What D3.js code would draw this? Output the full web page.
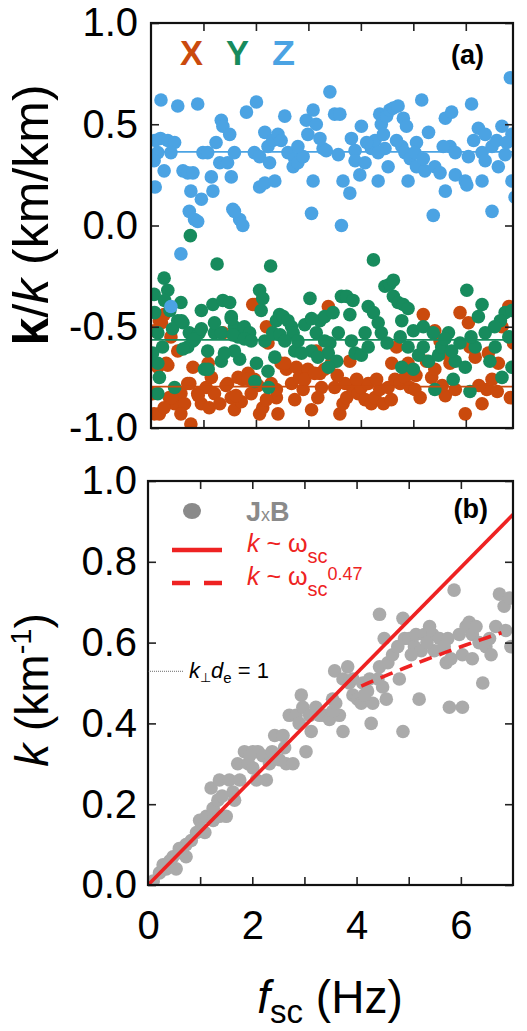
<!DOCTYPE html>
<html><head><meta charset="utf-8">
<script src="https://cdn.jsdelivr.net/npm/d3@7"></script>
<style>
body{margin:0;background:#fff}
svg{display:block}
text{font-family:"Liberation Sans",Arial,Helvetica,sans-serif}
</style>
</head><body>
<svg id="c" width="527" height="1031"></svg>
<script>
// ---------- DATA ----------
// panel (a): direction cosines of k vs spacecraft-frame frequency (Hz)
const compX = [[0.76,-0.98],[0.06,-0.93],[0.16,-0.93],[0.13,-0.70],[0.29,-0.68],[0.16,-0.47],[0.25,-0.44],[0.38,-0.55],[0.51,-0.62],[0.35,-0.85],[0.45,-0.88],[0.57,-0.83],[0.64,-0.88],[0.70,-0.78],[0.80,-0.70],[0.89,-0.83],[0.96,-0.88],[1.05,-0.80],[1.11,-0.90],[1.21,-0.83],[1.31,-0.88],[1.37,-0.53],[1.46,-0.78],[1.53,-0.85],[1.59,-0.91],[1.66,-0.75],[1.75,-0.76],[1.85,-0.73],[1.94,-0.39],[1.91,-0.83],[1.97,-0.76],[2.07,-0.93],[2.13,-0.90],[2.23,-0.58],[2.29,-0.78],[2.39,-0.85],[2.48,-0.68],[2.58,-0.71],[2.68,-0.78],[2.77,-0.70],[2.83,-0.75],[2.90,-0.81],[2.99,-0.71],[3.06,-0.91],[3.15,-0.62],[3.22,-0.73],[3.25,-0.80],[3.31,-0.71],[3.38,-0.40],[3.44,-0.68],[3.50,-0.80],[3.60,-0.93],[3.66,-0.88],[3.73,-0.85],[3.79,-0.67],[3.85,-0.81],[3.95,-0.83],[4.01,-0.80],[4.08,-0.86],[4.14,-0.78],[4.20,-0.88],[4.27,-0.85],[4.36,-0.81],[4.43,-0.88],[4.52,-0.80],[4.59,-0.68],[4.65,-0.76],[4.75,-0.78],[4.84,-0.75],[4.68,-0.60],[4.94,-0.80],[5.03,-0.81],[5.13,-0.85],[5.19,-0.44],[5.25,-0.67],[5.35,-0.75],[5.41,-0.52],[5.51,-0.57],[5.61,-0.84],[5.70,-0.68],[5.80,-0.81],[5.89,-0.43],[5.99,-0.93],[6.05,-0.48],[6.08,-0.60],[6.18,-0.65],[6.31,-0.88],[6.40,-0.81],[6.50,-0.76],[6.62,-0.68],[6.69,-0.50],[6.82,-0.40],[6.85,-0.85],[6.91,-0.58],[6.43,-0.63],[5.41,-0.71],[5.61,-0.63],[4.90,-0.68],[3.70,-0.78],[3.18,-0.85],[2.74,-0.86],[2.42,-0.93],[1.72,-0.87],[1.15,-0.75],[0.57,-0.93],[0.25,-0.90],[0.03,-0.83],[0.20,-0.48],[0.07,-0.52],[0.32,-0.69],[0.74,-0.78],[0.90,-0.84],[0.39,-0.85],[1.43,-0.79],[1.09,-0.68],[1.85,-0.76],[2.04,-0.79],[2.20,-0.86],[1.98,-0.39],[2.20,-0.50],[2.55,-0.68],[2.93,-0.76],[3.12,-0.73],[1.62,-0.84],[2.39,-0.81],[3.55,-0.74],[3.92,-0.76],[4.30,-0.76],[4.58,-0.86],[5.05,-0.74],[5.55,-0.79],[6.25,-0.79],[6.60,-0.82]];
const compY = [[0.75,-0.05],[1.26,-0.19],[2.28,-0.20],[4.24,-0.17],[6.02,-0.32],[0.06,-0.34],[0.25,-0.26],[0.32,-0.32],[0.57,-0.38],[0.51,-0.47],[0.13,-0.53],[0.22,-0.60],[0.13,-0.68],[0.16,-0.75],[0.45,-0.80],[0.41,-0.51],[0.61,-0.48],[0.73,-0.53],[0.80,-0.57],[0.96,-0.42],[0.92,-0.53],[1.02,-0.71],[1.08,-0.62],[1.21,-0.53],[1.18,-0.39],[1.34,-0.67],[1.37,-0.37],[1.50,-0.38],[1.53,-0.45],[1.59,-0.50],[1.66,-0.55],[1.69,-0.66],[1.78,-0.50],[1.88,-0.53],[2.01,-0.68],[2.07,-0.32],[2.13,-0.36],[2.17,-0.57],[2.23,-0.72],[2.32,-0.53],[2.39,-0.47],[2.45,-0.44],[2.52,-0.45],[2.61,-0.47],[2.68,-0.50],[2.74,-0.62],[2.71,-0.53],[2.80,-0.57],[2.93,-0.49],[3.03,-0.36],[3.06,-0.62],[3.15,-0.53],[3.22,-0.47],[3.31,-0.45],[3.41,-0.58],[3.47,-0.43],[3.57,-0.53],[3.63,-0.35],[3.73,-0.35],[3.79,-0.44],[3.85,-0.37],[3.82,-0.57],[3.89,-0.63],[4.01,-0.64],[4.08,-0.53],[4.14,-0.40],[4.24,-0.43],[4.33,-0.48],[4.39,-0.53],[4.46,-0.30],[4.55,-0.29],[4.62,-0.27],[4.62,-0.35],[4.71,-0.38],[4.81,-0.39],[4.90,-0.41],[4.75,-0.55],[4.78,-0.70],[4.90,-0.60],[5.00,-0.52],[5.10,-0.64],[5.19,-0.50],[5.19,-0.60],[5.29,-0.67],[5.38,-0.53],[5.41,-0.81],[5.48,-0.64],[5.54,-0.60],[5.67,-0.53],[5.76,-0.76],[5.80,-0.67],[5.89,-0.58],[5.99,-0.70],[6.08,-0.82],[6.18,-0.60],[6.24,-0.45],[6.31,-0.39],[6.37,-0.53],[6.46,-0.67],[6.56,-0.60],[6.69,-0.75],[6.75,-0.43],[6.82,-0.55],[6.88,-0.70],[6.88,-0.42],[6.66,-0.47],[5.73,-0.62],[5.00,-0.71],[4.78,-0.47],[3.38,-0.63],[3.54,-0.67],[2.87,-0.63],[3.18,-0.65],[1.59,-0.62],[1.34,-0.53],[0.70,-0.60],[0.03,-0.63],[4.14,-0.60],[0.26,-0.37],[0.36,-0.42],[0.07,-0.43],[0.58,-0.47],[0.61,-0.61],[0.83,-0.56],[0.96,-0.51],[1.21,-0.48],[1.53,-0.46],[1.56,-0.54],[1.78,-0.56],[1.91,-0.57],[2.10,-0.42],[2.36,-0.65],[2.46,-0.54],[2.55,-0.57],[3.06,-0.46],[3.31,-0.57],[3.38,-0.70],[1.40,-0.63],[1.09,-0.71],[1.98,-0.77],[2.24,-0.80],[0.13,-0.83],[4.50,-0.58],[5.60,-0.56],[6.10,-0.55],[6.55,-0.50]];
const compZ = [[0.19,0.62],[0.51,0.59],[0.89,0.60],[0.08,0.42],[0.18,0.43],[0.32,0.42],[0.45,0.41],[0.13,0.36],[0.06,0.32],[0.25,0.27],[0.08,0.19],[0.38,0.36],[0.61,0.27],[0.70,0.26],[0.80,0.26],[0.76,0.17],[0.96,0.13],[0.73,0.07],[0.83,0.03],[0.89,0.02],[0.57,-0.14],[0.38,-0.40],[0.99,0.36],[1.08,0.36],[1.24,0.41],[1.15,0.24],[1.18,0.17],[1.34,0.52],[1.37,0.49],[1.50,0.45],[1.53,0.24],[1.31,0.31],[1.46,0.31],[1.56,0.08],[1.69,0.03],[1.75,0.00],[1.59,0.07],[1.82,0.56],[2.01,0.61],[1.97,0.36],[2.07,0.34],[2.17,0.46],[2.23,0.39],[2.32,0.42],[2.42,0.45],[2.26,0.31],[2.07,0.19],[2.17,0.21],[2.36,0.22],[2.55,0.54],[2.48,0.42],[2.61,0.36],[2.74,0.33],[2.71,0.29],[2.80,0.31],[2.90,0.34],[2.96,0.52],[2.99,0.45],[3.09,0.57],[3.15,0.50],[3.22,0.43],[3.28,0.38],[3.34,0.37],[3.41,0.66],[3.50,0.55],[3.60,0.55],[3.57,0.35],[3.09,0.22],[3.06,0.06],[3.63,0.00],[3.66,0.22],[3.79,0.16],[3.82,0.43],[3.89,0.37],[3.89,0.32],[3.98,0.25],[4.01,0.49],[4.08,0.31],[4.20,0.38],[4.27,0.42],[4.36,0.55],[4.39,0.50],[4.43,0.45],[4.49,0.54],[4.55,0.57],[4.62,0.58],[4.71,0.59],[4.81,0.53],[4.87,0.49],[4.78,0.39],[4.84,0.36],[4.94,0.33],[4.90,0.22],[4.52,0.29],[4.46,0.38],[4.33,0.22],[5.16,0.62],[5.06,0.41],[5.03,0.36],[5.06,0.29],[5.22,0.27],[5.29,0.46],[5.38,0.05],[5.41,0.29],[5.51,0.26],[5.61,0.17],[5.61,0.53],[5.73,0.56],[5.70,0.39],[5.80,0.36],[5.80,0.25],[5.99,0.22],[6.02,0.20],[6.11,0.60],[6.15,0.42],[6.24,0.48],[6.31,0.36],[6.37,0.32],[6.50,0.07],[6.37,0.45],[6.50,0.39],[6.59,0.42],[6.69,0.49],[6.62,0.29],[6.75,0.35],[6.85,0.73],[6.88,0.45],[6.88,0.22],[6.94,0.14],[6.31,0.22],[6.05,0.34],[4.11,0.41],[4.68,0.42],[5.19,0.33],[5.57,0.39],[4.33,0.36],[2.80,0.39],[1.59,0.36],[6.78,0.41]];
const compNames = ["X","Y","Z"];
const compMeans = [-0.796, -0.565, 0.364];
const yTicksA = [-1, -0.5, 0, 0.5, 1];

// panel (b): |k| (km^-1) vs f_sc (Hz), J x B method
const jxb = [[0.10,0.01],[0.22,0.03],[0.35,0.04],[0.29,0.05],[0.48,0.07],[0.54,0.04],[0.64,0.08],[0.73,0.07],[0.73,0.10],[0.83,0.11],[0.93,0.13],[0.99,0.16],[1.09,0.13],[1.12,0.17],[1.25,0.19],[1.34,0.21],[1.25,0.16],[1.37,0.17],[1.50,0.17],[1.21,0.24],[1.37,0.26],[1.56,0.26],[1.63,0.23],[1.66,0.21],[1.76,0.26],[1.72,0.30],[1.85,0.33],[2.01,0.33],[2.11,0.33],[2.20,0.32],[1.92,0.30],[2.01,0.29],[2.08,0.26],[2.27,0.26],[2.33,0.30],[2.43,0.37],[2.59,0.37],[2.52,0.31],[2.65,0.30],[2.78,0.30],[2.62,0.34],[2.71,0.42],[2.84,0.42],[3.03,0.33],[2.94,0.47],[2.97,0.44],[3.10,0.42],[3.13,0.38],[3.22,0.44],[3.29,0.42],[3.38,0.42],[3.48,0.41],[3.54,0.46],[3.67,0.42],[3.74,0.38],[3.58,0.53],[3.74,0.51],[3.83,0.54],[3.86,0.50],[3.93,0.47],[4.02,0.46],[3.93,0.51],[4.09,0.45],[4.12,0.50],[4.21,0.48],[4.25,0.51],[4.31,0.45],[4.41,0.51],[4.50,0.49],[4.44,0.54],[4.57,0.46],[4.28,0.40],[4.44,0.67],[4.53,0.61],[4.60,0.55],[4.69,0.57],[4.79,0.59],[4.89,0.66],[4.82,0.51],[4.92,0.61],[4.89,0.38],[5.01,0.61],[5.11,0.59],[5.14,0.62],[5.20,0.46],[5.24,0.58],[5.30,0.62],[5.40,0.64],[5.46,0.62],[5.49,0.58],[5.59,0.61],[5.68,0.59],[5.75,0.61],[5.72,0.55],[5.81,0.56],[5.87,0.73],[5.78,0.44],[5.97,0.62],[6.03,0.57],[6.10,0.64],[6.16,0.65],[6.22,0.62],[6.29,0.64],[6.35,0.60],[6.22,0.56],[6.03,0.44],[6.42,0.50],[6.48,0.59],[6.58,0.57],[6.67,0.64],[6.74,0.72],[6.83,0.69],[6.93,0.71],[6.86,0.63],[6.96,0.59],[3.54,0.43],[0.42,0.06],[0.60,0.09],[1.02,0.14],[1.42,0.22],[1.95,0.32],[2.38,0.33],[2.90,0.40],[3.60,0.45],[4.15,0.47],[5.05,0.57],[5.35,0.60],[6.55,0.61]];
const linearSlope = 0.131;          // k ~ omega_sc
const powerAmp = 0.254, powerExp = 0.47, powerRange = [4.09, 6.78];  // k ~ omega_sc^0.47
const kdeLine = 0.529;              // k_perp d_e = 1
const xTicksB = [0, 2, 4, 6];
const yTicksB = [0, 0.2, 0.4, 0.6, 0.8, 1.0];

// ---------- STYLE ----------
const compColors = ["#CA4A0D", "#178B5D", "#4BA3E3"];
const gray = "#AAAAAA", red = "#EE2222";
const FONT = '"Liberation Sans", Arial, Helvetica, sans-serif';
const R = 6.8;

const svg = d3.select("#c");
const fmt = d => d3.format(".1f")(d).replace("\u2212", "-");

function frameAndTicks(x, y, opts) {
  const g = svg.append("g");
  const [x0, x1] = x.range(), [y0, y1] = y.range();
  const styleAxis = sel => {
    sel.select(".domain").remove();
    sel.selectAll("line").attr("stroke", "#222").attr("stroke-width", 1.6);
    sel.attr("font-family", FONT).attr("font-size", opts.tickFont).selectAll("text").attr("fill", "#000");
  };
  g.append("g").attr("transform", `translate(0,${y0})`)
    .call(d3.axisBottom(x).tickValues(opts.xMinor).tickSizeInner(-8).tickSizeOuter(0).tickFormat("")).call(styleAxis);
  g.append("g").attr("transform", `translate(0,${y1})`)
    .call(d3.axisTop(x).tickValues(opts.xMinor).tickSizeInner(-8).tickSizeOuter(0).tickFormat("")).call(styleAxis);
  g.append("g").attr("transform", `translate(${x0},0)`)
    .call(d3.axisLeft(y).tickValues(opts.yTicks).tickSizeInner(-8).tickSizeOuter(0).tickPadding(opts.yPad).tickFormat(fmt)).call(styleAxis);
  g.append("g").attr("transform", `translate(${x1},0)`)
    .call(d3.axisRight(y).tickValues(opts.yTicks).tickSizeInner(-8).tickSizeOuter(0).tickFormat("")).call(styleAxis);
  if (opts.xLabels) {
    g.append("g").attr("transform", `translate(0,${y0})`)
      .call(d3.axisBottom(x).tickValues(opts.xLabels).tickSize(0).tickPadding(opts.xPad).tickFormat(d3.format("d"))).call(styleAxis);
  }
  g.append("rect").attr("x", x0).attr("y", y1).attr("width", x1 - x0).attr("height", y0 - y1)
    .attr("fill", "none").attr("stroke", "#111").attr("stroke-width", 2.2);
}

// ---------- PANEL A ----------
const xA = d3.scaleLinear().domain([0, 6.9]).range([151, 513]);
const yA = d3.scaleLinear().domain([-1, 1]).range([428, 23]);
svg.append("clipPath").attr("id", "clipA").append("rect")
  .attr("x", 151).attr("y", 23).attr("width", 362).attr("height", 405);
const gA = svg.append("g").attr("clip-path", "url(#clipA)");
[compX, compY, compZ].forEach((data, i) => {
  gA.append("g").selectAll("circle").data(data).join("circle")
    .attr("cx", d => xA(d[0])).attr("cy", d => yA(d[1])).attr("r", R)
    .attr("fill", compColors[i]);
});
compMeans.forEach((m, i) => {
  gA.append("line").attr("x1", xA.range()[0]).attr("x2", xA.range()[1])
    .attr("y1", yA(m)).attr("y2", yA(m)).attr("stroke", compColors[i]).attr("stroke-width", 1.8);
});
frameAndTicks(xA, yA, {xMinor: [1,2,3,4,5,6], yTicks: yTicksA, tickFont: 40, yPad: 13});

// legend X Y Z
const legX = [180, 226, 272];
compNames.forEach((n, i) => {
  svg.append("text").attr("x", legX[i]).attr("y", 65).attr("font-size", 35).attr("font-weight", "bold")
    .attr("fill", compColors[i]).attr("textLength", 23).attr("lengthAdjust", "spacingAndGlyphs").text(n);
});
svg.append("text").attr("x", 484).attr("y", 64).attr("text-anchor", "end").attr("font-size", 27)
  .attr("font-weight", "bold").text("(a)");

// y label A
const ylA = svg.append("text").attr("transform", "translate(48,215) rotate(-90)")
  .attr("text-anchor", "middle").attr("font-size", 50);
ylA.append("tspan").attr("font-weight", "bold").text("k");
ylA.append("tspan").text("/");
ylA.append("tspan").attr("font-style", "italic").text("k");
ylA.append("tspan").text(" (km/km)");

// ---------- PANEL B ----------
const xB = d3.scaleLinear().domain([0, 7]).range([148, 513]);
const yB = d3.scaleLinear().domain([0, 1]).range([885, 481]);
svg.append("clipPath").attr("id", "clipB").append("rect")
  .attr("x", 148).attr("y", 481).attr("width", 365).attr("height", 404);
const gB = svg.append("g").attr("clip-path", "url(#clipB)");
gB.append("g").selectAll("circle").data(jxb).join("circle")
  .attr("cx", d => xB(d[0])).attr("cy", d => yB(d[1])).attr("r", R).attr("fill", gray);

const line = d3.line().x(d => xB(d[0])).y(d => yB(d[1]));
gB.append("path").attr("d", line(xB.domain().map(f => [f, linearSlope * f])))
  .attr("fill", "none").attr("stroke", red).attr("stroke-width", 3.6);
const pf = d3.range(0, 21).map(i => powerRange[0] + i * (powerRange[1] - powerRange[0]) / 20);
gB.append("path").attr("d", line(pf.map(f => [f, powerAmp * Math.pow(f, powerExp)])))
  .attr("fill", "none").attr("stroke", red).attr("stroke-width", 3.6).attr("stroke-dasharray", "13,8");

frameAndTicks(xB, yB, {xMinor: [1,2,3,4,5,6], yTicks: yTicksB, tickFont: 40, yPad: 11, xLabels: xTicksB, xPad: 26});

// k_perp d_e = 1 marker
svg.append("line").attr("x1", xB(0)).attr("x2", xB(0) + 36).attr("y1", yB(kdeLine)).attr("y2", yB(kdeLine))
  .attr("stroke", "#444").attr("stroke-width", 0.8).attr("stroke-dasharray", "1,1");
const kt = svg.append("text").attr("x", 189).attr("y", yB(kdeLine) + 7).attr("font-size", 22);
kt.append("tspan").attr("font-style", "italic").text("k");
kt.append("tspan").attr("font-size", 13).attr("dy", 4).text("\u22A5");
kt.append("tspan").attr("font-style", "italic").attr("dy", -4).text("d");
kt.append("tspan").attr("font-size", 15).attr("dy", 5).text("e");
kt.append("tspan").attr("dy", -5).text(" = 1");

// legend B
svg.append("ellipse").attr("cx", 192).attr("cy", 511).attr("rx", 9).attr("ry", 8).attr("fill", "#8A8A8A");
const jt = svg.append("text").attr("x", 246).attr("y", 521).attr("font-size", 27).attr("fill", "#8A8A8A");
jt.append("tspan").attr("font-weight", "bold").text("J");
jt.append("tspan").attr("font-size", 18).text("x");
jt.append("tspan").attr("font-weight", "bold").text("B");
svg.append("text").attr("x", 488).attr("y", 518).attr("text-anchor", "end").attr("font-size", 27)
  .attr("font-weight", "bold").text("(b)");

svg.append("line").attr("x1", 172).attr("x2", 222).attr("y1", 550).attr("y2", 550)
  .attr("stroke", red).attr("stroke-width", 4.5);
svg.append("line").attr("x1", 172).attr("x2", 222).attr("y1", 583).attr("y2", 583)
  .attr("stroke", red).attr("stroke-width", 4.5).attr("stroke-dasharray", "18,14");
const l1 = svg.append("text").attr("x", 247).attr("y", 552).attr("font-size", 25).attr("fill", red);
l1.append("tspan").attr("font-style", "italic").text("k");
l1.append("tspan").text(" ~ \u03C9");
l1.append("tspan").attr("font-size", 20).attr("dy", 11).text("sc");
const l2 = svg.append("text").attr("x", 247).attr("y", 585).attr("font-size", 25).attr("fill", red);
l2.append("tspan").attr("font-style", "italic").text("k");
l2.append("tspan").text(" ~ \u03C9");
l2.append("tspan").attr("font-size", 20).attr("dy", 11).text("sc");
l2.append("tspan").attr("font-size", 18).attr("dy", -16).text("0.47");

// y label B
const ylB = svg.append("text").attr("transform", "translate(48,690) rotate(-90)")
  .attr("text-anchor", "middle").attr("font-size", 46);
ylB.append("tspan").attr("font-style", "italic").text("k");
ylB.append("tspan").text(" (km");
ylB.append("tspan").attr("font-size", 29).attr("dy", -17).text("-1");
ylB.append("tspan").attr("dy", 17).text(")");

// x label B
const xl = svg.append("text").attr("x", 330).attr("y", 1013).attr("text-anchor", "middle").attr("font-size", 46);
xl.append("tspan").attr("font-style", "italic").text("f");
xl.append("tspan").attr("font-size", 33).attr("dy", 10).text("sc");
xl.append("tspan").attr("dy", -10).text(" (Hz)");
</script>
</body></html>
